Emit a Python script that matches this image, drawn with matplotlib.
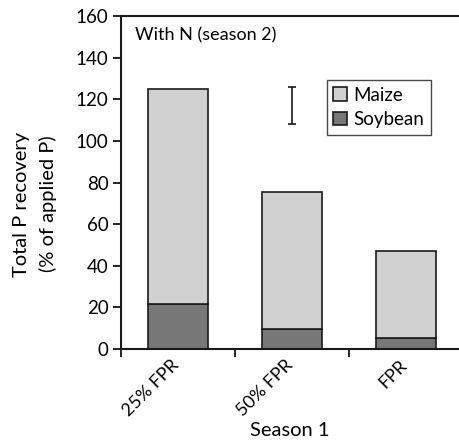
import numpy as np
import matplotlib.pyplot as plt
import matplotlib.transforms as mtransforms

plt.rcParams['font.family'] = ['Lato', 'DejaVu Sans']

# P recovery by season-1 treatment, stacked by crop
treatments = ["25% FPR", "50% FPR", "FPR"]
soybean = [21.5, 9.5, 5.3]
maize_total = [125, 75.3, 47]
maize = [t - s for t, s in zip(maize_total, soybean)]

# LSD bar drawn above the middle treatment
lsd_center = 117
lsd_half = 9

fig = plt.figure(figsize=(4.59, 4.47), dpi=100)
ax = fig.add_axes([0.2636, 0.2192, 0.7364, 0.745])

x = np.arange(len(treatments))
w = 0.53
ax.bar(x, soybean, width=w, color="#777777", edgecolor="#1a1a1a", linewidth=1.2, label="Soybean")
ax.bar(x, maize, width=w, bottom=soybean, color="#d1d1d1", edgecolor="#1a1a1a", linewidth=1.2, label="Maize")

ax.errorbar([1], [lsd_center], yerr=[lsd_half], fmt="none", ecolor="#1a1a1a",
            elinewidth=1.2, capsize=3, capthick=1.2)

ax.set_xlim(-0.5, 2.465)
ax.set_ylim(0, 160)
ax.set_yticks(np.arange(0, 161, 20))
ax.set_xticks([-0.5, 0.5, 1.5])
ax.set_xticklabels([])
ax.set_xticks(x, minor=True)
ax.set_xticklabels(treatments, minor=True, rotation=45, ha="right", rotation_mode="anchor", fontsize=13)
ax.tick_params(axis="x", which="minor", length=0, pad=6)
ax.tick_params(axis="x", which="major", length=6, width=1.2, direction="out")
ax.tick_params(axis="y", length=6, width=1.2, labelsize=13.5, pad=3)

# nudge the rotated category labels a little to the left
shift = mtransforms.ScaledTranslation(-5 / 72, 0, fig.dpi_scale_trans)
for lbl in ax.get_xticklabels(minor=True):
    lbl.set_transform(lbl.get_transform() + shift)

for side in ["left", "bottom", "top"]:
    ax.spines[side].set_linewidth(1.5)
    ax.spines[side].set_color("#1a1a1a")
ax.spines["right"].set_visible(False)

ax.set_ylabel("Total P recovery\n(% of applied P)", fontsize=14.5, linespacing=1.6)
ax.yaxis.label.set_va("center")
ax.yaxis.set_label_coords(-0.254, 0.435)
ax.set_xlabel("Season 1", fontsize=14.5)
ax.xaxis.set_label_coords(0.5, -0.22)

ax.text(0.04, 0.965, "With N (season 2)", transform=ax.transAxes, fontsize=13, va="top")

handles, labels = ax.get_legend_handles_labels()
leg = ax.legend(handles[::-1], labels[::-1], loc="upper left", bbox_to_anchor=(0.609, 0.808),
                borderaxespad=0, fontsize=13.5, frameon=True, fancybox=False, edgecolor="#1a1a1a",
                handlelength=0.75, handleheight=0.75, handletextpad=0.3, borderpad=0.35, labelspacing=0.4)
leg.get_frame().set_linewidth(1.0)

fig.savefig("out.png", dpi=100)
